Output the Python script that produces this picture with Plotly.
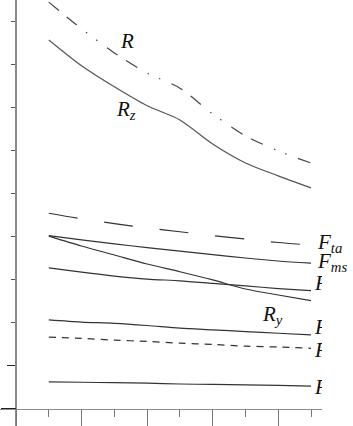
import plotly.graph_objects as go

# ---- data ----
x_vals = [1, 2, 3, 4, 5, 6, 7, 8, 9]

R_vals    = [9.45, 8.83, 8.27, 7.80, 7.45, 6.85, 6.34, 5.99, 5.71]
Rz_vals   = [8.57, 7.97, 7.48, 7.04, 6.71, 6.15, 5.71, 5.41, 5.13]
Fta_vals  = [4.54, 4.41, 4.30, 4.20, 4.11, 4.02, 3.94, 3.86, 3.80]
Fms_vals  = [4.02, 3.92, 3.83, 3.74, 3.66, 3.58, 3.50, 3.43, 3.38]
Ry_vals   = [4.01, 3.78, 3.57, 3.36, 3.18, 2.99, 2.78, 2.64, 2.51]
F3_vals   = [3.27, 3.17, 3.08, 3.01, 2.97, 2.91, 2.85, 2.79, 2.74]
F4_vals   = [2.06, 2.01, 1.98, 1.93, 1.87, 1.83, 1.79, 1.75, 1.71]
F5_vals   = [1.66, 1.63, 1.59, 1.56, 1.52, 1.49, 1.45, 1.43, 1.40]
F6_vals   = [0.62, 0.61, 0.60, 0.59, 0.57, 0.56, 0.55, 0.54, 0.52]

x_major_ticks = [0, 2, 4, 6, 8]
x_minor_ticks = [1, 3, 5, 7, 9]
y_short_ticks = [2, 3, 4, 5, 6, 7, 8, 9]

# clipped labels at the right edge
clip_label_y = [2.88, 1.86, 1.33, 0.47]
clip_label_text = ["F", "F", "F", "F"]

W, H = 353, 426
XR = [-0.488, 9.335]
YR = [-0.407, 9.50]

LINE = "#333333"
FONT = "Liberation Serif"

fig = go.Figure()

def add_line(y, dash="solid", color=LINE, width=1.2, shape="spline"):
    fig.add_trace(go.Scatter(
        x=x_vals, y=y, mode="lines",
        line=dict(color=color, width=width, dash=dash, shape=shape, smoothing=0.8),
        showlegend=False, hoverinfo="skip"))

add_line(R_vals, dash="13px,10px,13px,12px,1.5px,11px,1.5px,12px", color="#444444")
add_line(Rz_vals, color="#555555")
add_line(Fta_vals, dash="29px,27px")
add_line(Fms_vals)
add_line(Ry_vals)
add_line(F3_vals)
add_line(F4_vals)
add_line(F5_vals, dash="7px,6px")
add_line(F6_vals)

# clipped labels (text clipped by the plot area)
fig.add_trace(go.Scatter(
    x=[9.12] * len(clip_label_y), y=clip_label_y, mode="text",
    text=["<i>%s</i>" % t for t in clip_label_text],
    textposition="middle right",
    textfont=dict(family=FONT, size=21, color="#111111"),
    cliponaxis=True, showlegend=False, hoverinfo="skip"))

def label(txt, x, y, xanchor="left"):
    fig.add_annotation(x=x, y=y, xref="x", yref="y", text=txt, showarrow=False,
                       xanchor=xanchor, yanchor="middle",
                       font=dict(family=FONT, size=21, color="#111111"))

label("<i>R</i>", 3.40, 8.55, xanchor="center")
label("<i>R<sub>z</sub></i>", 2.98, 6.95)
label("<i>R<sub>y</sub></i>", 7.45, 2.18)
label("<i>F<sub>ta</sub></i>", 9.12, 3.86)
label("<i>F<sub>ms</sub></i>", 9.12, 3.40)

fig.update_layout(
    width=W, height=H,
    margin=dict(l=0, r=0, t=0, b=0),
    paper_bgcolor="white", plot_bgcolor="white",
    xaxis=dict(
        domain=[0, 322 / W], range=XR, anchor="free", position=17.5 / H,
        showgrid=False, zeroline=False, showline=True, linecolor="#8c8c8c", linewidth=1.5,
        tickmode="array", tickvals=x_major_ticks, ticks="outside", ticklen=17,
        tickcolor="#777777", tickwidth=1, showticklabels=False,
        minor=dict(tickvals=x_minor_ticks, ticks="outside", ticklen=7,
                   tickcolor="#777777", tickwidth=1, showgrid=False),
    ),
    yaxis=dict(
        domain=[0, 1], range=YR, anchor="free", position=16 / W,
        showgrid=False, zeroline=False, showline=True, linecolor="#8a8a8a", linewidth=2,
        tickmode="array", tickvals=[1], ticks="outside", ticklen=8,
        tickcolor="#222222", tickwidth=1, showticklabels=False,
        minor=dict(tickvals=y_short_ticks, ticks="outside", ticklen=4,
                   tickcolor="#555555", tickwidth=1, showgrid=False),
    ),
    yaxis2=dict(
        domain=[0, 1], range=YR, anchor="free", position=16 / W, overlaying="y",
        showgrid=False, zeroline=False, showline=False,
        tickmode="array", tickvals=[0], ticks="outside", ticklen=15,
        tickcolor="#222222", tickwidth=1, showticklabels=False,
    ),
)

# dummy trace to activate yaxis2
fig.add_trace(go.Scatter(x=[None], y=[None], yaxis="y2", showlegend=False, hoverinfo="skip"))

fig.write_html(
    "out.html",
    config={"displayModeBar": False, "staticPlot": True},
    post_script="document.body.style.margin='0';document.body.style.overflow='hidden';",
)
